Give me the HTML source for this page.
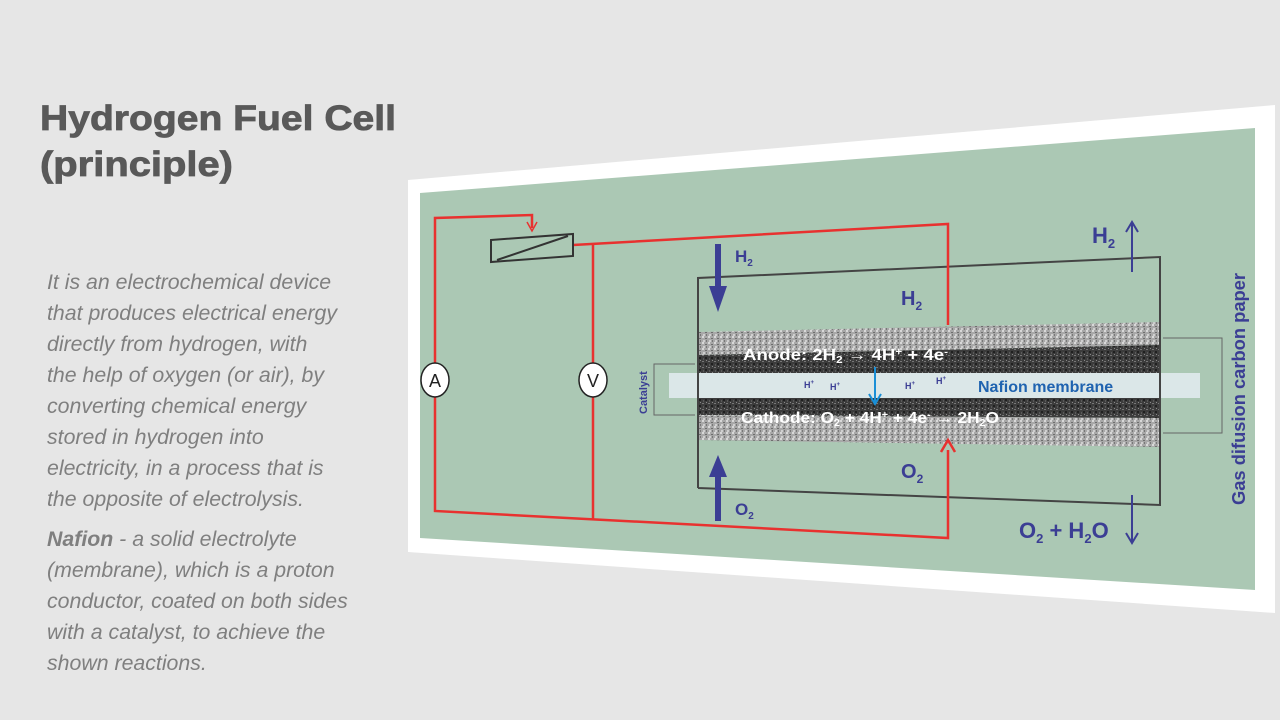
<!DOCTYPE html>
<html><head><meta charset="utf-8"><style>
html,body{margin:0;padding:0;background:#e6e6e6;}
svg{display:block}
</style></head><body>
<svg width="1280" height="720" viewBox="0 0 1280 720" xmlns="http://www.w3.org/2000/svg" font-family="Liberation Sans, Arial, sans-serif">
<defs>
<pattern id="noiseL" width="6" height="6" patternUnits="userSpaceOnUse">
<rect width="6" height="6" fill="#a8a8a8"/><rect x="0" y="0" width="2" height="2" fill="#d8d8d8"/><rect x="3" y="2" width="2" height="1" fill="#6e6e6e"/><rect x="1" y="4" width="2" height="2" fill="#cfcfcf"/><rect x="4" y="4" width="1" height="2" fill="#777"/>
</pattern>
<pattern id="noiseD" width="6" height="6" patternUnits="userSpaceOnUse">
<rect width="6" height="6" fill="#3c3c3c"/><rect x="0" y="1" width="2" height="1" fill="#777"/><rect x="3" y="3" width="2" height="2" fill="#202020"/><rect x="4" y="0" width="1" height="1" fill="#888"/><rect x="1" y="4" width="1" height="2" fill="#5a5a5a"/>
</pattern>
</defs>
<rect width="1280" height="720" fill="#e6e6e6"/>
<g fill="#595959" stroke="#595959" stroke-width="0.8" font-size="35" font-weight="bold">
<text x="40" y="130" textLength="356" lengthAdjust="spacingAndGlyphs">Hydrogen Fuel Cell</text>
<text x="40" y="176" textLength="193" lengthAdjust="spacingAndGlyphs">(principle)</text>
</g>
<g font-size="21.3" font-style="italic" fill="#7f7f7f">
<text x="47" y="289">It is an electrochemical device</text>
<text x="47" y="320">that produces electrical energy</text>
<text x="47" y="351">directly from hydrogen, with</text>
<text x="47" y="382">the help of oxygen (or air), by</text>
<text x="47" y="413">converting chemical energy</text>
<text x="47" y="444">stored in hydrogen into</text>
<text x="47" y="475">electricity, in a process that is</text>
<text x="47" y="506">the opposite of electrolysis.</text>
<text x="47" y="546"><tspan font-weight="bold">Nafion</tspan> - a solid electrolyte</text>
<text x="47" y="577">(membrane), which is a proton</text>
<text x="47" y="608">conductor, coated on both sides</text>
<text x="47" y="639">with a catalyst, to achieve the</text>
<text x="47" y="670">shown reactions.</text>
</g>
<polygon points="408,180 1275,105 1275,613 408,552" fill="#ffffff"/>
<polygon points="420,193 1255,128 1255,590 420,538" fill="#abc8b4"/>
<polygon points="698,332 1160,322 1160,345 698,355" fill="url(#noiseL)"/>
<polygon points="698,355 1160,345 1160,373 698,373" fill="url(#noiseD)"/>
<polygon points="698,398 1160,398 1160,418 698,415" fill="url(#noiseD)"/>
<polygon points="698,415 1160,418 1160,447 698,440" fill="url(#noiseL)"/>
<rect x="669" y="373" width="531" height="25" fill="#dbe7e8"/>
<polyline points="698,488 698,278 1160,257 1160,505 698,488" fill="none" stroke="#444" stroke-width="2"/>
<g fill="none" stroke="#e8312f" stroke-width="2.5">
<polyline points="435,365 435,218 532,215 532,228"/>
<polyline points="435,395 435,511 948,538 948,450"/>
<polyline points="573,245 948,224 948,325"/>
<line x1="593" y1="245" x2="593" y2="365"/>
<line x1="593" y1="395" x2="593" y2="519"/>
</g>
<polyline points="527,222 532,231 537,222" fill="none" stroke="#e8312f" stroke-width="1.5"/>
<polyline points="941,452 948,440 955,452" fill="none" stroke="#e8312f" stroke-width="2.5"/>
<polygon points="491,240 573,234 573,256 491,262" fill="none" stroke="#333" stroke-width="2"/>
<line x1="497" y1="260" x2="568" y2="236" stroke="#333" stroke-width="2"/>
<ellipse cx="435" cy="380" rx="14" ry="17" fill="#fff" stroke="#222" stroke-width="1.5"/>
<text x="435" y="387" font-size="18" text-anchor="middle" fill="#222">A</text>
<ellipse cx="593" cy="380" rx="14" ry="17" fill="#fff" stroke="#222" stroke-width="1.5"/>
<text x="593" y="387" font-size="18" text-anchor="middle" fill="#222">V</text>
<g fill="#3b3e94">
<rect x="715" y="244" width="6" height="42"/><polygon points="709,286 727,286 718,312"/>
<rect x="715" y="475" width="6" height="46"/><polygon points="709,477 727,477 718,455"/>
</g>
<g fill="none" stroke="#3b3e94" stroke-width="2">
<line x1="1132" y1="224" x2="1132" y2="272"/><polyline points="1126,232 1132,222 1138,232"/>
<line x1="1132" y1="495" x2="1132" y2="542"/><polyline points="1126,533 1132,543 1138,533"/>
</g>
<g fill="#3b3e94" font-weight="bold">
<text x="735" y="262" font-size="17">H<tspan font-size="10" dy="4">2</tspan></text>
<text x="901" y="305" font-size="20">H<tspan font-size="12" dy="5">2</tspan></text>
<text x="901" y="478" font-size="20">O<tspan font-size="12" dy="5">2</tspan></text>
<text x="735" y="515" font-size="17">O<tspan font-size="10" dy="4">2</tspan></text>
<text x="1092" y="243" font-size="22">H<tspan font-size="13" dy="5">2</tspan></text>
<text x="1019" y="538" font-size="22">O<tspan font-size="13" dy="5">2</tspan><tspan dy="-5"> + H</tspan><tspan font-size="13" dy="5">2</tspan><tspan dy="-5">O</tspan></text>
<text transform="translate(1245,505) rotate(-90)" font-size="18" textLength="232" lengthAdjust="spacingAndGlyphs">Gas difusion carbon paper</text>
<text transform="translate(647,414) rotate(-90)" font-size="11">Catalyst</text>
<g font-size="9"><text x="804" y="388">H<tspan font-size="6" dy="-4">+</tspan></text><text x="830" y="390">H<tspan font-size="6" dy="-4">+</tspan></text><text x="905" y="389">H<tspan font-size="6" dy="-4">+</tspan></text><text x="936" y="384">H<tspan font-size="6" dy="-4">+</tspan></text></g>
</g>
<text x="978" y="392" font-size="16" font-weight="bold" fill="#1f63b0">Nafion membrane</text>
<g fill="#fff" font-weight="bold" font-size="16">
<text x="743" y="360" textLength="205" lengthAdjust="spacingAndGlyphs">Anode:   2H<tspan font-size="10" dy="3">2</tspan><tspan dy="-3"> → 4H</tspan><tspan font-size="10" dy="-5">+</tspan><tspan dy="5"> + 4e</tspan><tspan font-size="10" dy="-5">-</tspan></text>
<text x="741" y="423" textLength="258" lengthAdjust="spacingAndGlyphs">Cathode:    O<tspan font-size="10" dy="3">2</tspan><tspan dy="-3"> + 4H</tspan><tspan font-size="10" dy="-5">+</tspan><tspan dy="5"> + 4e</tspan><tspan font-size="10" dy="-5">-</tspan><tspan dy="5"> → 2H</tspan><tspan font-size="10" dy="3">2</tspan><tspan dy="-3">O</tspan></text>
</g>
<line x1="875" y1="367" x2="875" y2="402" stroke="#1a8fd6" stroke-width="2"/>
<polyline points="869,394 875,404 881,394" fill="none" stroke="#1a8fd6" stroke-width="2"/>
<g fill="none" stroke="#666" stroke-width="1">
<polyline points="695,364 654,364 654,415 695,415"/>
<polyline points="1163,338 1222,338 1222,433 1163,433"/>
</g>
</svg>
</body></html>
